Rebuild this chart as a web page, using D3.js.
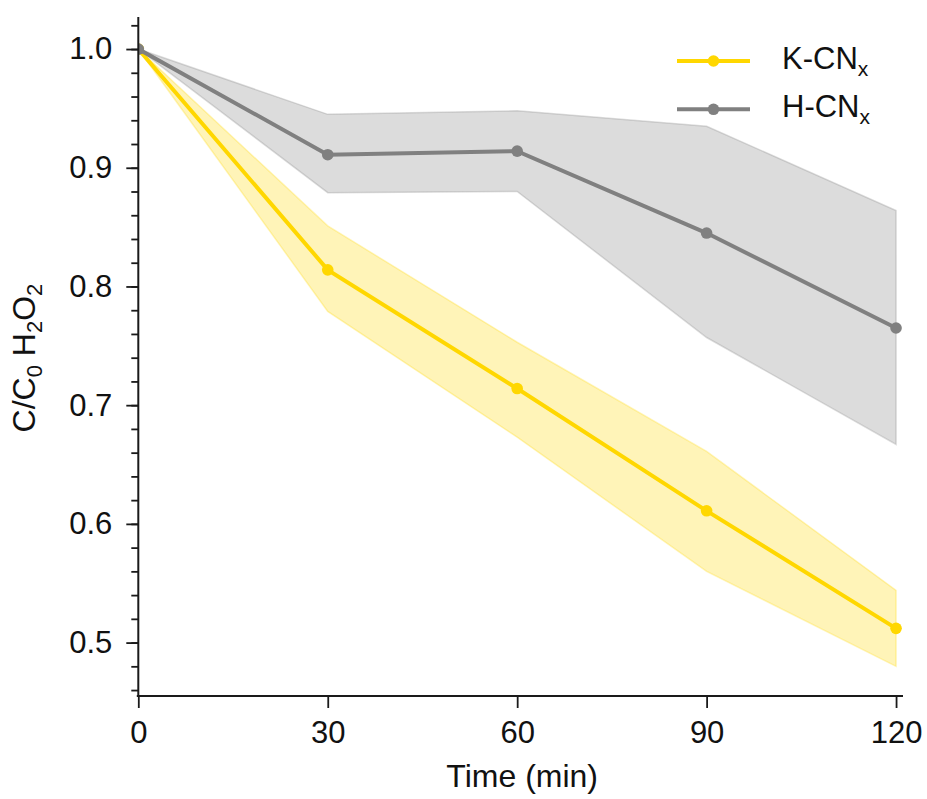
<!DOCTYPE html>
<html>
<head>
<meta charset="utf-8">
<script src="https://cdn.jsdelivr.net/npm/d3@7"></script>
<style>
  html, body { margin: 0; padding: 0; background: #fff; }
  svg { display: block; font-family: "Liberation Sans", Arial, sans-serif; }
</style>
</head>
<body>
<svg id="chart" width="927" height="799"></svg>
<script>
// Sampling times (min)
const times = [0, 30, 60, 90, 120];

// K-CNx: mean C/C0 and band limits
const kMean  = [1.0, 0.814, 0.714, 0.611, 0.512];
const kUpper = [1.0, 0.851, 0.753, 0.661, 0.544];
const kLower = [1.0, 0.779, 0.673, 0.560, 0.480];

// H-CNx: mean C/C0 and band limits
const hMean  = [1.0, 0.911, 0.914, 0.845, 0.765];
const hUpper = [1.0, 0.945, 0.948, 0.935, 0.864];
const hLower = [1.0, 0.879, 0.880, 0.757, 0.667];

// Axis ticks
const xTicks = [0, 30, 60, 90, 120];
const yTicks = [0.5, 0.6, 0.7, 0.8, 0.9, 1.0];
const yMinorTicks = d3.range(0.46, 1.021, 0.02).map(v => +v.toFixed(2));

const series = [
  { name: "K-CN", sub: "x", color: "#FFD700", mean: kMean, upper: kUpper, lower: kLower },
  { name: "H-CN", sub: "x", color: "#808080", mean: hMean, upper: hUpper, lower: hLower }
];

const svg = d3.select("#chart");
const plotLeft = 138.3, plotRight = 903, plotTop = 17, plotBottom = 696;

const x = d3.scaleLinear().domain([0, 121.1]).range([plotLeft, plotRight]);
const y = d3.scaleLinear().domain([0.455, 1.027]).range([plotBottom, plotTop]);

svg.append("defs").append("clipPath").attr("id", "plotClip")
  .append("rect").attr("x", plotLeft).attr("y", plotTop)
  .attr("width", plotRight - plotLeft).attr("height", plotBottom - plotTop);

const plot = svg.append("g").attr("clip-path", "url(#plotClip)");

const area = d3.area()
  .x((d, i) => x(times[i]))
  .y0(d => y(d[0]))
  .y1(d => y(d[1]));
const line = d3.line()
  .x((d, i) => x(times[i]))
  .y(d => y(d));

series.forEach(s => {
  const band = s.lower.map((lo, i) => [lo, s.upper[i]]);
  plot.append("path")
    .datum(band)
    .attr("d", area)
    .attr("fill", s.color)
    .attr("fill-opacity", 0.28)
    .attr("stroke", s.color)
    .attr("stroke-opacity", 0.28)
    .attr("stroke-width", 1.5);
});

series.forEach(s => {
  plot.append("path")
    .datum(s.mean)
    .attr("d", line)
    .attr("fill", "none")
    .attr("stroke", s.color)
    .attr("stroke-width", 4);
  plot.selectAll(null)
    .data(s.mean)
    .enter().append("circle")
    .attr("cx", (d, i) => x(times[i]))
    .attr("cy", d => y(d))
    .attr("r", 5.8)
    .attr("fill", s.color);
});

// Axes
const axisColor = "#1a1a1a";
const tickFont = "31px";
const xAxis = svg.append("g")
  .attr("transform", `translate(0,${plotBottom})`)
  .call(d3.axisBottom(x).tickValues(xTicks).tickFormat(d3.format("d"))
    .tickSize(12).tickSizeOuter(0).tickPadding(13));
const yAxisMinor = svg.append("g")
  .attr("transform", `translate(${plotLeft},0)`)
  .call(d3.axisLeft(y).tickValues(yMinorTicks).tickFormat("")
    .tickSize(7).tickSizeOuter(0));
yAxisMinor.select(".domain").remove();
const yAxis = svg.append("g")
  .attr("transform", `translate(${plotLeft},0)`)
  .call(d3.axisLeft(y).tickValues(yTicks).tickFormat(d3.format(".1f"))
    .tickSize(12).tickSizeOuter(0).tickPadding(14));

[xAxis, yAxis, yAxisMinor].forEach(g => {
  g.selectAll(".domain").attr("stroke", axisColor).attr("stroke-width", 2);
  g.selectAll(".tick line").attr("stroke", axisColor).attr("stroke-width", 1.8);
  g.selectAll(".tick text").attr("fill", "#111").style("font-size", tickFont)
    .style("font-family", "'Liberation Sans', Arial, sans-serif");
});
xAxis.select(".domain").attr("d", `M${plotLeft - 1.5},0H${plotRight}`);
yAxis.select(".domain").attr("d", `M0,${plotTop}V${plotBottom + 1}`);

// Axis titles
svg.append("text")
  .attr("x", (x(0) + x(120)) / 2 + 5)
  .attr("y", 787)
  .attr("text-anchor", "middle")
  .attr("fill", "#111")
  .style("font-size", "32px")
  .text("Time (min)");

const yl = svg.append("text")
  .attr("transform", `translate(35,358) rotate(-90)`)
  .attr("text-anchor", "middle")
  .attr("fill", "#111")
  .style("font-size", "32px");
yl.append("tspan").text("C/C");
yl.append("tspan").attr("dy", 7).style("font-size", "22px").text("0");
yl.append("tspan").attr("dy", -7).text(" H");
yl.append("tspan").attr("dy", 7).style("font-size", "22px").text("2");
yl.append("tspan").attr("dy", -7).text("O");
yl.append("tspan").attr("dy", 7).style("font-size", "22px").text("2");

// Legend
const legend = svg.append("g");
series.forEach((s, i) => {
  const ly = 61 + i * 48.3;
  legend.append("line")
    .attr("x1", 677).attr("x2", 750).attr("y1", ly).attr("y2", ly)
    .attr("stroke", s.color).attr("stroke-width", 4);
  legend.append("circle")
    .attr("cx", 713.5).attr("cy", ly).attr("r", 5.8).attr("fill", s.color);
  const t = legend.append("text")
    .attr("x", 782).attr("y", ly + 7.5)
    .attr("fill", "#111")
    .style("font-size", "31px");
  t.append("tspan").text(s.name);
  t.append("tspan").attr("dy", 7).style("font-size", "21px").text(s.sub);
});
</script>
</body>
</html>
